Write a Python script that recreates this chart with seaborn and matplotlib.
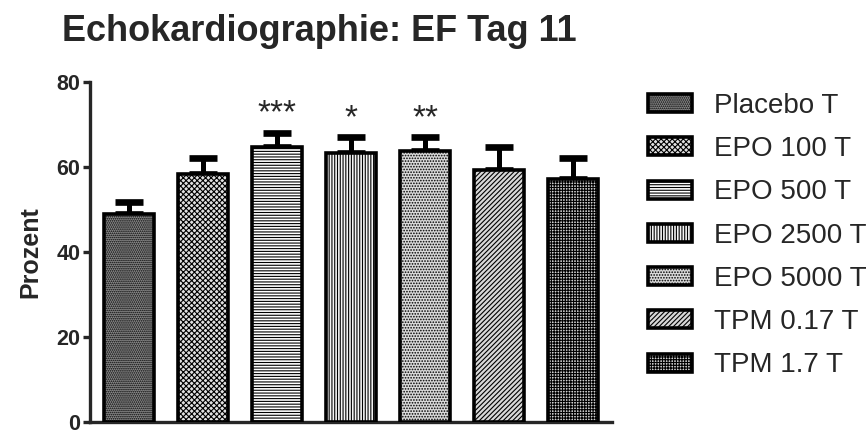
import numpy as np
import pandas as pd
import matplotlib
matplotlib.use("Agg")
import matplotlib.pyplot as plt
import seaborn as sns
from matplotlib.colors import to_rgba

# ---- data ----
groups = ["Placebo T", "EPO 100 T", "EPO 500 T", "EPO 2500 T",
          "EPO 5000 T", "TPM 0.17 T", "TPM 1.7 T"]
means = [49.0, 58.4, 64.7, 63.3, 63.7, 59.2, 57.1]
sem = [2.7, 3.7, 3.4, 3.7, 3.3, 5.5, 5.0]
stars = ["", "", "***", "*", "**", "", ""]
yticks = [0, 20, 40, 60, 80]

# ---- styles ----
faces = ["#8c8c8c", "#e0e0e0", "#ffffff", "#f4f4f4", "#dadada", "#d8d8d8", "#d0d0d0"]
hatches = ["........", "xxxxxx", "------", "||||||", "......",
           "///////", "++++++"]
hcolors = ["#6c6c6c", "#262626", "#9a9a9a", "#a8a8a8", "#b4b4b4", "#b4b4b4", "#7a7a7a"]

sns.set_style("ticks")
plt.rcParams["font.family"] = ["Liberation Sans", "DejaVu Sans"]
plt.rcParams["hatch.linewidth"] = 0.8

fig = plt.figure(figsize=(8.67, 4.34), dpi=100)
ax = fig.add_axes([90 / 867, 12 / 434, (612 - 90) / 867, (422 - 82) / 434])

df = pd.DataFrame({"group": groups, "mean": means})
sns.barplot(data=df, x="group", y="mean", hue="group", order=groups,
            hue_order=groups, palette=faces, dodge=False, width=0.676,
            edgecolor="black", linewidth=2.6, legend=False, ax=ax, zorder=3)

patches = list(ax.patches)[:len(groups)]
for p, h, hc in zip(patches, hatches, hcolors):
    p.set_hatch(h)
    try:
        p.set_hatchcolor(hc)
    except AttributeError:
        p._hatch_color = to_rgba(hc)
    p.set_edgecolor("black")

x = np.arange(len(groups))
ax.errorbar(x, means, yerr=[np.zeros(len(sem)), sem], fmt="none",
            ecolor="black", elinewidth=3.6, capsize=10, capthick=4.8,
            zorder=2)

for i, s in enumerate(stars):
    if s:
        ax.text(i, means[i] + sem[i] + 0.8, s, ha="center", va="bottom",
                fontsize=24, fontweight="normal")

ax.set_xlim(-0.527, 6.527)
ax.set_ylim(0, 80)
ax.set_yticks(yticks)
ax.set_yticklabels([str(t) for t in yticks], fontsize=15.5, fontweight="bold")
ax.set_xticks([])
ax.set_xlabel("")
ax.set_ylabel("Prozent", fontsize=18, fontweight="bold", labelpad=10)
for sp in ["top", "right"]:
    ax.spines[sp].set_visible(False)
for sp in ["left", "bottom"]:
    ax.spines[sp].set_linewidth(2.4)
    ax.spines[sp].set_capstyle("projecting")
ax.tick_params(axis="y", length=5, width=2.4, pad=2)
ax.patch.set_visible(False)

fig.text(62 / 867, 1 - 41 / 434, "Echokardiographie: EF Tag 11",
         fontsize=26, fontweight="bold", ha="left", va="baseline")

leg = fig.legend(handles=patches, labels=groups, loc="upper left",
                 bbox_to_anchor=(648 / 867, 1 - 93 / 434), frameon=False,
                 fontsize=20, handlelength=1.6, handleheight=0.62,
                 handletextpad=0.78, labelspacing=0.62, borderaxespad=0,
                 borderpad=0)

fig.savefig("out.png", dpi=100)
